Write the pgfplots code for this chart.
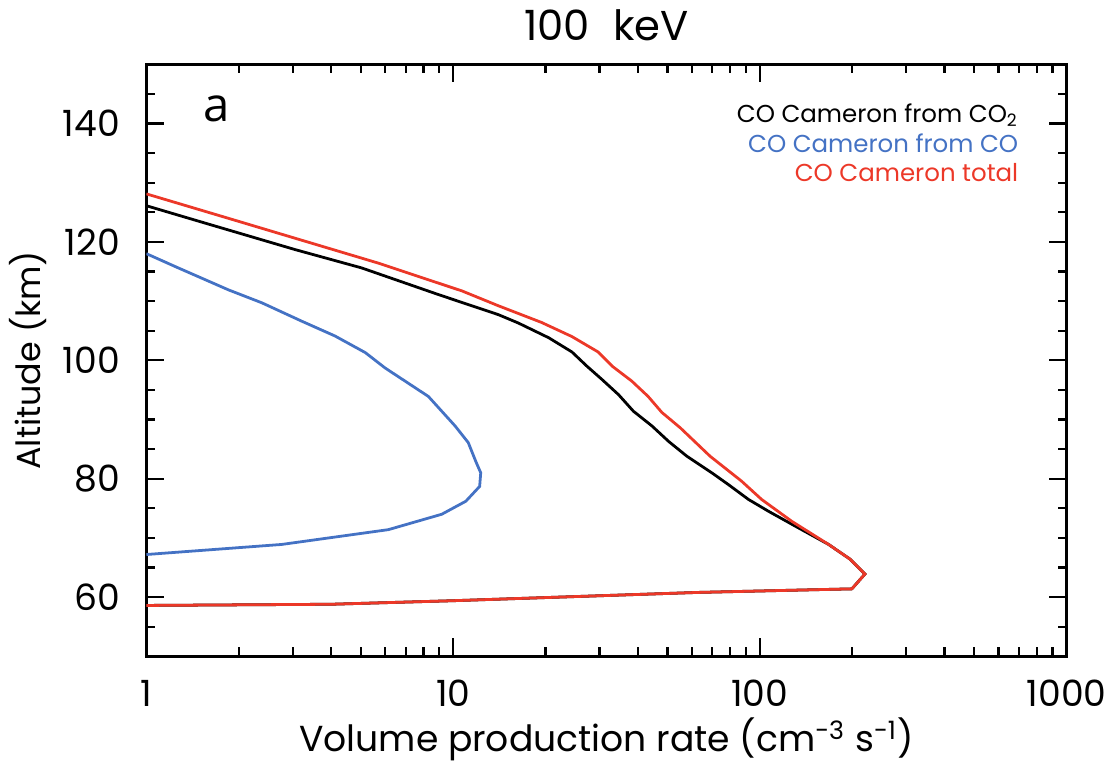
\documentclass[border=0pt]{standalone}
\usepackage{pgfplots}
\pgfplotsset{compat=1.18}
\usepackage{fontspec}
\setmainfont{Poppins}
\newfontfamily\afont{Open Sans}
\definecolor{cblue}{RGB}{68,114,196}
\definecolor{cred}{RGB}{236,56,40}
\begin{document}
\begin{tikzpicture}
\begin{axis}[
  scale only axis,
  width=331pt, height=213pt,
  xmode=log, xmin=1, xmax=1000,
  ymin=50, ymax=150,
  ytick={60,80,100,120,140},
  minor ytick={50,55,...,150},
  xtick={1,10,100,1000},
  xticklabels={1,10,100,1000},
  log ticks with fixed point,
  /pgf/number format/assume math mode=true,
  tick align=inside,
  major tick length=6.5pt,
  minor tick length=3.2pt,
  every tick/.style={black, line width=0.8pt},
  axis line style={line width=1pt},
  ticklabel style={font=\fontsize{13}{15}\selectfont},
  yticklabel style={xshift=-6pt},
  xticklabel style={yshift=-5pt, inner xsep=2pt},
  title={100\hspace{0.55em}keV},
  title style={font=\fontsize{15}{17}\selectfont, yshift=-1pt},
  xlabel={Volume production rate (cm\textsuperscript{-3} s\textsuperscript{-1})},
  ylabel={Altitude (km)},
  label style={font=\fontsize{13}{15}\selectfont},
  xlabel style={yshift=3pt},
  ylabel style={yshift=-1pt, font=\fontsize{12}{14}\selectfont},
  clip=true,
]
\addplot[cblue, line width=1pt] coordinates {
(1,118.0) (1.27,115.6) (1.85,111.9) (2.38,109.7) (3.21,106.6) (4.12,104.1) (5.17,101.3) (6.0,98.7) (8.3,93.9) (10.15,88.9) (11.2,86.1) (11.9,82.7) (12.3,81.0) (12.2,78.7) (11.0,76.2) (9.18,74.0) (6.15,71.4) (2.76,68.9) (1,67.2)
};
\addplot[black, line width=1pt] coordinates {
(1,126.1) (1.5,123.4) (3.05,118.7) (5.03,115.6) (8.95,111.1) (14.05,107.7) (16.3,106.3) (20.5,103.8) (24.4,101.4) (27.3,99.0) (30.5,96.8) (34.6,94.2) (38.7,91.4) (44.5,88.9) (50.4,86.3) (57.8,83.8) (69.7,81.0) (79,79.0) (91.8,76.5) (106.7,74.5) (130.3,72.0) (167.5,68.9) (197,66.4) (220,63.9) (199.5,61.4) (63,60.8) (10,59.4) (4,58.8) (1,58.6)
};
\addplot[cred, line width=1pt] coordinates {
(1,128.1) (1.9,123.8) (5.71,116.4) (10.7,111.7) (14.05,109.2) (19.4,106.4) (24.4,104.0) (29.7,101.4) (33.2,98.9) (38.2,96.5) (43.2,93.9) (47.9,91.2) (55,88.6) (68.8,83.8) (87.1,79.6) (101.3,76.5) (127.1,72.8) (167.5,68.9) (197,66.4) (220,63.9) (199.5,61.4) (63,60.8) (10,59.4) (4,58.8) (1,58.6)
};
\node[font=\afont\fontsize{17}{19}\selectfont, anchor=center] at (rel axis cs:0.076,0.925) {a};
\node[font=\fontsize{8.8}{10}\selectfont, anchor=base east, text=black, inner sep=0pt] at (rel axis cs:0.948,0.902) {CO Cameron from CO\textsubscript{2}};
\node[font=\fontsize{8.8}{10}\selectfont, anchor=base east, text=cblue, inner sep=0pt] at (rel axis cs:0.948,0.851) {CO Cameron from CO};
\node[font=\fontsize{8.8}{10}\selectfont, anchor=base east, text=cred, inner sep=0pt] at (rel axis cs:0.948,0.802) {CO Cameron total};
\end{axis}
\end{tikzpicture}
\end{document}
